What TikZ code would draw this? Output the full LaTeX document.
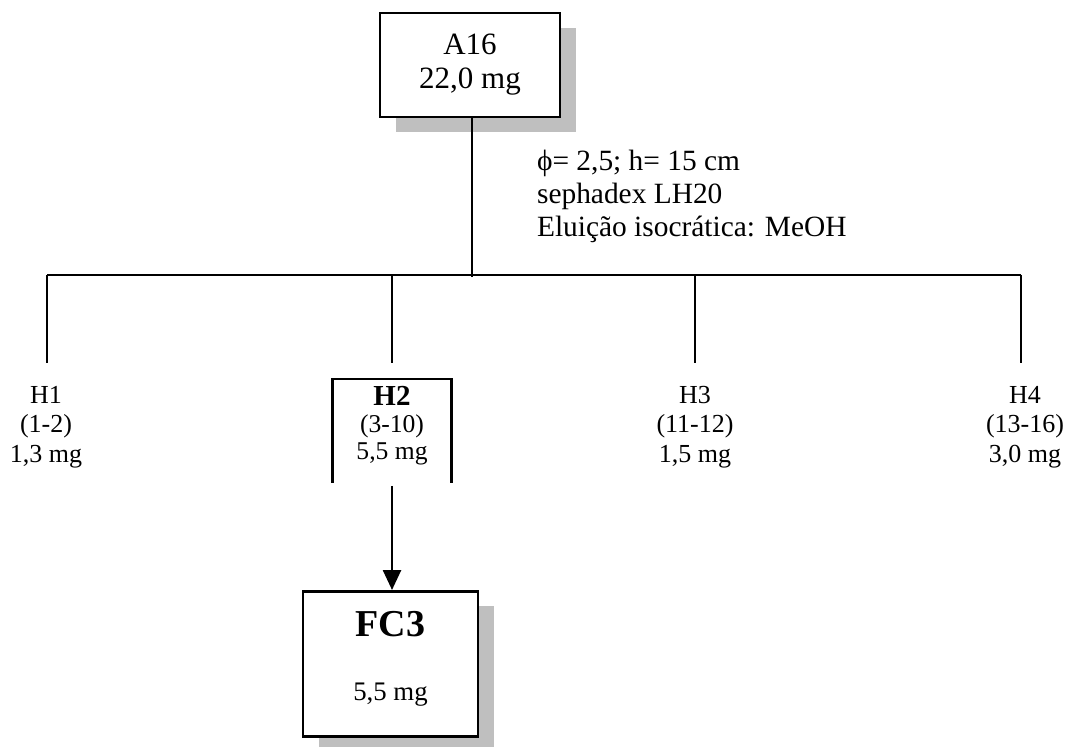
\documentclass[tikz,border=0pt]{standalone}
\usepackage{fontspec}
\setmainfont{Liberation Serif}
\usetikzlibrary{positioning, shadows, arrows.meta}

\begin{document}
\begin{tikzpicture}[x=0.5pt, y=-0.5pt,
  box/.style={draw, line width=1.3pt, fill=white, align=center, inner sep=0pt},
  shade/.style={drop shadow={shadow xshift=8pt, shadow yshift=-7.5pt, fill=black!25, opacity=1}},
  frac/.style={align=center, font=\fontsize{13}{14.8}\selectfont},
  wire/.style={line width=1pt},
  arr/.style={-{Triangle[length=10pt, width=9pt]}, line width=1.3pt}
]
\useasboundingbox (0,0) rectangle (1068,747);

\node[box, shade, minimum width=90pt, minimum height=52pt, font=\fontsize{15.5}{17}\selectfont] (a16) at (470,65) {A16\\22,0 mg};
\node[anchor=west, align=left, font=\fontsize{14.7}{16.5}\selectfont] (cond) at (530,196) {ϕ= 2,5; h= 15 cm\\sephadex LH20\\Eluição isocrática: MeOH};

% column split
\coordinate (hub) at (472,277);
\coordinate (t1) at (47,275);
\coordinate (t2) at (392,275);
\coordinate (t3) at (695,275);
\coordinate (t4) at (1021,275);
\draw[wire] (a16.south -| hub) -- (hub);
\draw[wire] (t1) -- (t4);
\foreach \t in {t1,t2,t3,t4}
  \draw[wire] (\t) -- ++(0,88);

\node[frac] (h1) at (46,427) {H1\\(1-2)\\1,3 mg};
\node[frac] (h3) at (695,427) {H3\\(11-12)\\1,5 mg};
\node[frac] (h4) at (1025,427) {H4\\(13-16)\\3,0 mg};

\node[minimum width=59pt, minimum height=51.5pt, anchor=north] (h2box) at (392,379) {};
\draw[line width=1.3pt] (h2box.south west) -- (h2box.north west) -- (h2box.north east) -- (h2box.south east);
\node[align=center, font=\fontsize{12.8}{13.6}\selectfont, below=0pt of h2box.north] (h2) {{\fontsize{14.5}{14}\selectfont\bfseries H2}\\(3-10)\\5,5 mg};

\node[box, shade, minimum width=87.5pt, minimum height=72.5pt, anchor=north] (fc3) at (390.5,590) {};
\node[font=\fontsize{19}{22}\selectfont\bfseries] (fc3name) at (390.5,624) {FC3};
\node[font=\fontsize{13.4}{15}\selectfont] (fc3mass) at (390.5,695) {5,5 mg};

\draw[arr] ([yshift=-1.5pt]h2box.south) -- (h2box.south |- fc3.north);
\end{tikzpicture}
\end{document}
